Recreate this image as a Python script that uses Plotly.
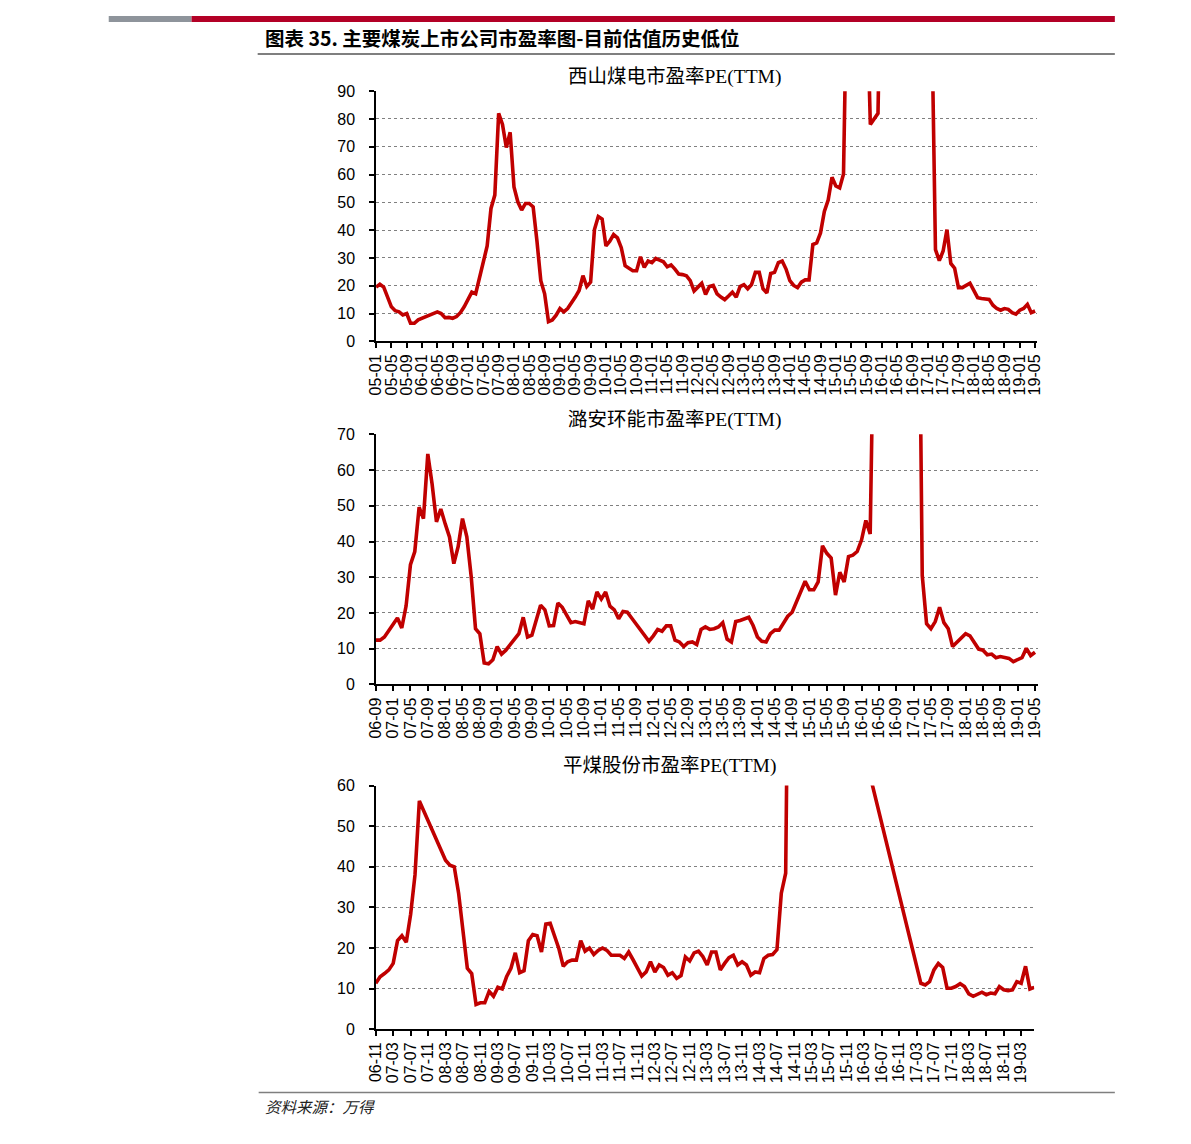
import plotly.graph_objects as go

# The page body keeps its default 8px margin, so the figure is 16px smaller
# than the 1191x1144 window and every position is offset by 8px.
WIN_W, WIN_H = 1191, 1144
OFF = 8
W, H = WIN_W - 2 * OFF, WIN_H - 2 * OFF

# ---------------- data ----------------
xishan_start = "2005-01"
xishan_pe = [
    19.5, 20.5, 19.5, 16, 12.4, 11, 10.6, 9.5, 10, 6.5, 6.5, 7.7,
    8.3, 8.9, 9.4, 9.8, 10.6, 10, 8.5, 8.6, 8.3, 8.9, 10.3, 12.4,
    15.4, 17.7, 17.1, 23, 27.8, 34.3, 47.8, 52.6, 82, 78, 69.7, 75.2,
    55.5, 50.2, 47.2, 49.6, 49.6, 48.4, 36, 21.8, 17.1, 7.1, 7.7, 9.4,
    11.8, 10.6, 11.8, 13.6, 15.9, 18.3, 23.6, 19.7, 21.3, 40.2, 44.9, 44,
    34.3, 36, 38.4, 37.2, 33.7, 27.2, 26.3, 25.4, 25.4, 30.4, 26.6, 28.9,
    28.3, 29.8, 29.2, 28.6, 26.8, 27.5, 26, 24.2, 24, 23.6, 21.8, 18.1,
    19.5, 20.9, 16.9, 19.7, 20.1, 17.1, 15.9, 15, 16.3, 17.7, 15.9, 19.7,
    20.4, 18.9, 20.4, 24.8, 24.8, 18.9, 17.4, 24.4, 24.8, 28.3, 28.9, 26,
    21.8, 20.1, 19.3, 21.3, 22.1, 22.1, 34.8, 35.4, 39, 46.7, 50.8, 59,
    55.9, 55.2, 60.2, 180, 220, 200, 160, 140, 130, 78, 80, 82,
    160, 200, 220, 240, 250, 230, 220, 210, 200, 190, 180, 170,
    160, 120, 33, 29, 32.5, 40.2, 28, 26.3, 19.3, 19.3, 20.1, 20.9,
    18.3, 15.7, 15.4, 15.2, 15.1, 13, 11.8, 11.2, 11.8, 11.5, 10.3, 9.8,
    11.2, 11.8, 13.3, 10.3, 10.9,
]

luan_start = "2006-09"
luan_pe = [
    12.4, 12.4, 13.3, 15.2,
    16.7, 18.6, 15.8, 22, 33.5, 37.2, 49.6, 46.4, 64.5, 56, 45.5, 49.1,
    45, 41.3, 33.8, 38.6, 46.4, 41.3, 30.3, 15.6, 14.2, 6, 5.8, 6.9,
    10.6, 8.5, 9.6, 11.2, 12.7, 14.2, 18.8, 13.3, 13.8, 17.9, 22.2, 20.9,
    16.4, 16.5, 22.8, 21.6, 19.3, 17.3, 17.6, 17.3, 17, 23.4, 21.1, 25.9,
    23.9, 25.9, 21.9, 20.9, 18.4, 20.4, 20.2, 18.6, 17, 15.2, 13.6, 12.1,
    13.6, 15.4, 14.9, 16.4, 16.4, 12.4, 11.9, 10.6, 11.7, 11.9, 11.2, 15.4,
    16.1, 15.4, 15.6, 16.1, 17.3, 12.7, 11.9, 17.6, 17.9, 18.4, 18.8, 16.5,
    13.3, 12.1, 11.9, 14.2, 15.2, 15.2, 17, 19.1, 20.2, 23, 25.7, 28.9,
    26.5, 26.5, 28.7, 38.8, 36.7, 35.4, 25, 31.4, 28.7, 35.8, 36.2, 37.2,
    40.4, 45.9, 42.1, 250, 260, 270, 260, 250, 240, 230, 220, 210,
    200, 150, 30.5, 17, 15.6, 17.6, 21.6, 17.3, 15.6, 10.6, 11.9, 13,
    14.2, 13.6, 11.5, 9.9, 9.6, 8.3, 8.5, 7.5, 7.8, 7.5, 7.3, 6.4,
    6.9, 7.5, 10.1, 8.1, 9,
]

pingmei_start = "2006-11"
pingmei_pe = [
    11.3, 12.9,
    13.7, 14.6, 16.2, 21.8, 23, 21.4, 28.3, 38, 56.2, 53.8, 51.3, 48.9,
    46.5, 44.1, 41.6, 40.4, 40, 33.5, 24.3, 15, 13.7, 6.1, 6.5, 6.5,
    9.3, 8.1, 10.3, 9.9, 12.9, 15, 18.8, 13.9, 14.4, 21.8, 23.3, 23,
    19, 25.9, 26.1, 23, 19.8, 15.5, 16.6, 17, 17, 21.8, 19.2, 20,
    18.4, 19.4, 20, 19.4, 18.2, 18.2, 18.2, 17.4, 19, 17.1, 15.2, 13.1,
    14.1, 16.6, 14.1, 15.8, 15.2, 13.3, 13.9, 12.5, 13.2, 17.8, 16.8, 18.8,
    19.2, 17.9, 15.8, 19, 19, 14.6, 16.2, 17.6, 18.2, 15.8, 16.6, 15.8,
    13.3, 14.1, 13.9, 17.4, 18.2, 18.4, 19.6, 33.5, 38.4, 143, None, None,
    None, None, None, None, None, None, None, None, None, None, None, None,
    None, None, None, None, None, None, None, None, None, None, None, None,
    None, None, None, 11.3, 10.9, 11.7, 14.6, 16.2, 15.2, 10.1, 10.1, 10.5,
    11.2, 10.5, 8.7, 8.1, 8.7, 9.1, 8.5, 8.9, 8.7, 10.5, 9.7, 9.5,
    9.7, 11.7, 11.3, 15.5, 9.9, 10.3,
]

chart_titles = ["西山煤电市盈率PE(TTM)", "潞安环能市盈率PE(TTM)", "平煤股份市盈率PE(TTM)"]
main_title = "图表 35. 主要煤炭上市公司市盈率图-目前估值历史低位"
source_text = "资料来源：万得"


def month_labels(start, n):
    y, m = map(int, start.split("-"))
    out = []
    for i in range(n):
        yy = y + (m - 1 + i) // 12
        mm = (m - 1 + i) % 12 + 1
        out.append(f"{yy % 100:02d}-{mm:02d}")
    return out


def px(x):
    return (x - OFF) / W


def py(y):
    return 1 - (y - OFF) / H


RED = "#C00000"
AX_FONT = dict(family="Liberation Sans, Arial, sans-serif", size=16, color="#000000")

fig = go.Figure()

charts = [
    (xishan_start, xishan_pe, 90, 172.4, (372, 1041.7, 84.3, 338.3), (675, 70)),
    (luan_start, luan_pe, 70, 152.6, (371.7, 1042.7, 432.7, 686.7), (675, 418)),
    (pingmei_start, pingmei_pe, 60, 151.0, (371.7, 1039.3, 789.3, 1036.7), (670, 769)),
]

annotations = []
for i, (start, vals, ymax, xend, box, tpos) in enumerate(charts):
    sfx = "" if i == 0 else str(i + 1)
    labels = month_labels(start, len(vals))
    fig.add_trace(go.Scatter(
        x=labels, y=vals, mode="lines", connectgaps=True,
        line=dict(color=RED, width=3.6),
        xaxis="x" + sfx, yaxis="y" + sfx, showlegend=False,
        hoverinfo="skip",
    ))
    x0, x1, yt, yb = box
    fig.update_layout(**{
        "xaxis" + sfx: dict(
            domain=[px(x0), px(x1)], anchor="y" + sfx, type="category",
            categoryorder="array", categoryarray=labels,
            range=[0, xend], tickmode="array",
            tickvals=labels[::4], ticktext=labels[::4], tickangle=-90,
            ticks="outside", ticklen=5, tickcolor="#000", tickwidth=1.5,
            showline=True, linecolor="#000", linewidth=1.5,
            showgrid=False, zeroline=False, tickfont=AX_FONT,
        ),
        "yaxis" + sfx: dict(
            domain=[py(yb), py(yt)], anchor="x" + sfx,
            range=[0, ymax], dtick=10, tick0=0,
            ticks="outside", ticklen=5, tickcolor="#000", tickwidth=1.5,
            showline=True, linecolor="#000", linewidth=1.5,
            showgrid=True, gridcolor="#808080", griddash="dot", gridwidth=1,
            zeroline=False, tickfont=AX_FONT, ticklabelstandoff=11,
        ),
    })
    annotations.append(dict(
        text=chart_titles[i], x=px(tpos[0]), y=py(tpos[1]), xref="paper", yref="paper",
        xanchor="center", yanchor="middle", showarrow=False,
        font=dict(family="Liberation Serif, Noto Sans CJK SC, serif", size=19.5, color="#000"),
    ))

annotations.append(dict(
    text="<b>" + main_title + "</b>", x=px(257), y=py(30), xref="paper", yref="paper",
    xanchor="left", yanchor="middle", showarrow=False,
    font=dict(family="Noto Sans CJK SC, sans-serif", size=19.5, color="#000"),
))
annotations.append(dict(
    text="<i>" + source_text + "</i>", x=px(257), y=py(1115), xref="paper", yref="paper",
    xanchor="left", yanchor="middle", showarrow=False,
    font=dict(family="Noto Sans CJK SC, sans-serif", size=15.5, color="#222"),
))

shapes = [
    dict(type="rect", xref="paper", yref="paper", x0=px(101), x1=px(185), y0=py(14), y1=1.0,
         fillcolor="#8E949B", line=dict(width=0)),
    dict(type="rect", xref="paper", yref="paper", x0=px(185), x1=px(1121), y0=py(14), y1=1.0,
         fillcolor="#B30026", line=dict(width=0)),
    dict(type="line", xref="paper", yref="paper", x0=px(252), x1=px(1121), y0=py(46.5), y1=py(46.5),
         line=dict(color="#7f7f7f", width=2)),
    dict(type="line", xref="paper", yref="paper", x0=px(253), x1=px(1121), y0=py(1101), y1=py(1101),
         line=dict(color="#7f7f7f", width=1.5)),
]

fig.update_layout(
    width=W, height=H, margin=dict(l=0, r=0, t=0, b=0),
    paper_bgcolor="#ffffff", plot_bgcolor="#ffffff",
    annotations=annotations, shapes=shapes, showlegend=False,
)

fig.write_html("out.html", config={"displayModeBar": False})
